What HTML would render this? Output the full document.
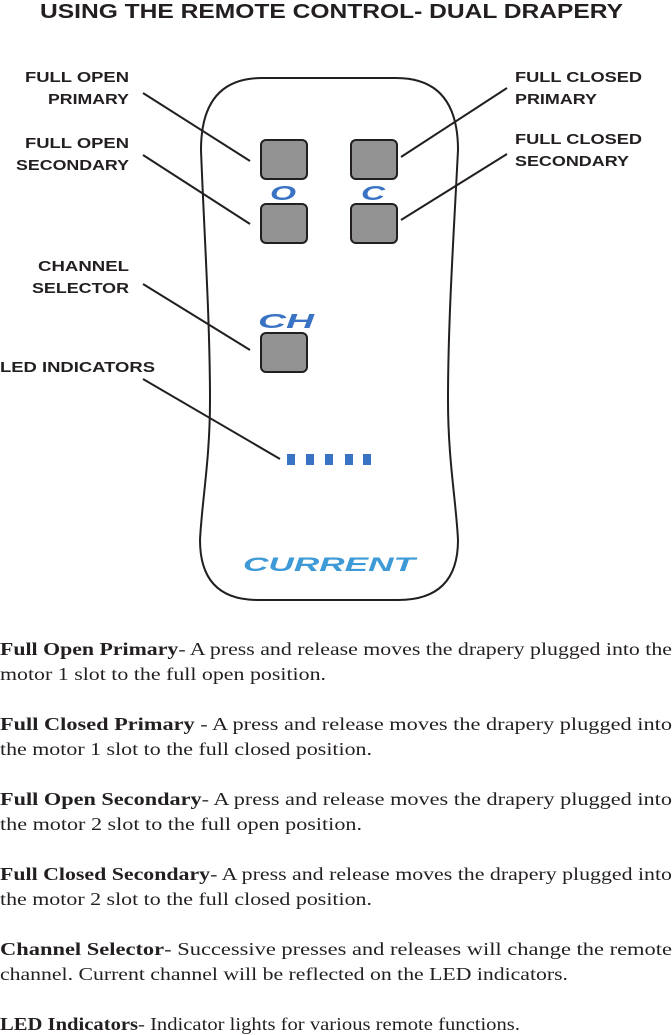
<!DOCTYPE html>
<html><head><meta charset="utf-8">
<style>
html,body{margin:0;padding:0;background:#fff;}
body{width:672px;height:1035px;position:relative;overflow:hidden;}
svg{position:absolute;left:0;top:0;}
</style></head><body>
<svg width="672" height="1035" viewBox="0 0 672 1035">
<g font-family="Liberation Sans, sans-serif" font-weight="bold" fill="#231f20">
<text x="40" y="18" font-size="20" textLength="583" lengthAdjust="spacingAndGlyphs">USING THE REMOTE CONTROL- DUAL DRAPERY</text>
<g font-size="14.5" text-anchor="end">
<text x="129" y="82" textLength="104" lengthAdjust="spacingAndGlyphs">FULL OPEN</text>
<text x="129" y="104" textLength="81" lengthAdjust="spacingAndGlyphs">PRIMARY</text>
<text x="129" y="148" textLength="104" lengthAdjust="spacingAndGlyphs">FULL OPEN</text>
<text x="129" y="170" textLength="113" lengthAdjust="spacingAndGlyphs">SECONDARY</text>
<text x="129" y="271" textLength="91" lengthAdjust="spacingAndGlyphs">CHANNEL</text>
<text x="129" y="293" textLength="97" lengthAdjust="spacingAndGlyphs">SELECTOR</text>
</g>
<text x="0" y="372" font-size="14.5" textLength="155" lengthAdjust="spacingAndGlyphs">LED INDICATORS</text>
<text x="515" y="82" font-size="14.5" textLength="127" lengthAdjust="spacingAndGlyphs">FULL CLOSED</text>
<text x="515" y="104" font-size="14.5" textLength="82" lengthAdjust="spacingAndGlyphs">PRIMARY</text>
<text x="515" y="144" font-size="14.5" textLength="127" lengthAdjust="spacingAndGlyphs">FULL CLOSED</text>
<text x="515" y="166" font-size="14.5" textLength="114" lengthAdjust="spacingAndGlyphs">SECONDARY</text>
</g>
<path d="M262,78 L396,78 Q458,78 458,150 C454,230 448,320 448,400 C448,460 456,500 458,540 Q458,600 398,600 L258,600 Q200,600 200,540 C202,500 210,460 210,400 C210,320 204,230 201,150 Q201,78 262,78 Z" fill="none" stroke="#231f20" stroke-width="2"/>
<g stroke="#231f20" stroke-width="2">
<line x1="143" y1="93" x2="250" y2="161"/>
<line x1="143" y1="155" x2="250" y2="224"/>
<line x1="143" y1="284" x2="250" y2="350"/>
<line x1="143" y1="379" x2="280" y2="459"/>
<line x1="507" y1="88" x2="401" y2="157"/>
<line x1="507" y1="154" x2="401" y2="220"/>
</g>
<g fill="#939393" stroke="#231f20" stroke-width="2">
<rect x="261" y="140" width="46" height="39" rx="5"/>
<rect x="351" y="140" width="46" height="39" rx="5"/>
<rect x="261" y="204" width="46" height="39" rx="5"/>
<rect x="351" y="204" width="46" height="39" rx="5"/>
<rect x="261" y="333" width="46" height="39" rx="5"/>
</g>
<g font-family="Liberation Sans, sans-serif" font-weight="bold" font-style="italic" fill="#3a73c4">
<text x="283" y="200" font-size="20" text-anchor="middle" textLength="26" lengthAdjust="spacingAndGlyphs">O</text>
<text x="373" y="200" font-size="20" text-anchor="middle" textLength="24" lengthAdjust="spacingAndGlyphs">C</text>
<text x="258" y="328" font-size="20" textLength="56" lengthAdjust="spacingAndGlyphs">CH</text>
</g>
<g fill="#3a73c4">
<rect x="287" y="454" width="8" height="11"/>
<rect x="306" y="454" width="8" height="11"/>
<rect x="325" y="454" width="8" height="11"/>
<rect x="345" y="454" width="8" height="11"/>
<rect x="363" y="454" width="8" height="11"/>
</g>
<text x="243" y="571" font-family="Liberation Sans, sans-serif" font-weight="bold" font-style="italic" font-size="19" fill="#3e9ad6" textLength="172" lengthAdjust="spacingAndGlyphs">CURRENT</text>
<g font-family="Liberation Serif, serif" font-size="18" fill="#231f20">
<text x="0" y="655" textLength="672" lengthAdjust="spacingAndGlyphs"><tspan font-weight="bold">Full Open Primary</tspan>-  A press and release moves the drapery plugged into the</text>
<text x="0" y="680" textLength="326" lengthAdjust="spacingAndGlyphs">motor 1 slot to the full open position.</text>
<text x="0" y="730" textLength="672" lengthAdjust="spacingAndGlyphs"><tspan font-weight="bold">Full Closed Primary</tspan> - A press and release moves the drapery plugged into</text>
<text x="0" y="755" textLength="372" lengthAdjust="spacingAndGlyphs">the motor 1 slot to the full closed position.</text>
<text x="0" y="805" textLength="672" lengthAdjust="spacingAndGlyphs"><tspan font-weight="bold">Full Open Secondary</tspan>- A press and release moves the drapery plugged into</text>
<text x="0" y="830" textLength="362" lengthAdjust="spacingAndGlyphs">the motor 2 slot to the full open position.</text>
<text x="0" y="880" textLength="672" lengthAdjust="spacingAndGlyphs"><tspan font-weight="bold">Full Closed Secondary</tspan>- A press and release moves the drapery plugged into</text>
<text x="0" y="905" textLength="372" lengthAdjust="spacingAndGlyphs">the motor 2 slot to the full closed position.</text>
<text x="0" y="955" textLength="672" lengthAdjust="spacingAndGlyphs"><tspan font-weight="bold">Channel Selector</tspan>- Successive presses and releases will change the remote</text>
<text x="0" y="980" textLength="568" lengthAdjust="spacingAndGlyphs">channel. Current channel will be reflected on the LED indicators.</text>
<text x="0" y="1030" textLength="520" lengthAdjust="spacingAndGlyphs"><tspan font-weight="bold">LED Indicators</tspan>- Indicator lights for various remote functions.</text>
</g>
</svg>
</body></html>
